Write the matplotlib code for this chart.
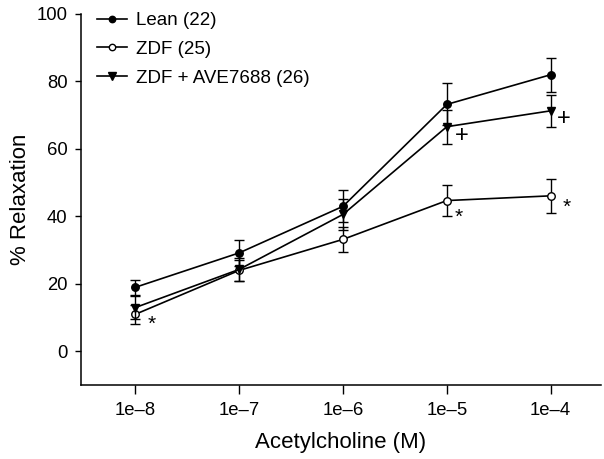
import matplotlib.pyplot as plt
import numpy as np

plt.rcParams['font.family'] = ['Liberation Sans', 'DejaVu Sans']

# stężenia acetylocholiny (etykiety osi x)
conc_labels = ['1e\u20138', '1e\u20137', '1e\u20136', '1e\u20135', '1e\u20134']

# % relaksacji, średnia i błąd
lean_mean = [19.0, 29.2, 43.0, 73.2, 82.0]
lean_err = [2.2, 3.8, 4.8, 6.2, 5.0]

zdf_mean = [11.0, 24.0, 33.2, 44.7, 46.1]
zdf_err = [2.8, 3.2, 3.7, 4.6, 5.0]

ave_mean = [13.0, 24.3, 40.6, 66.6, 71.3]
ave_err = [3.5, 3.5, 4.5, 5.0, 4.7]

labels = ['Lean (22)', 'ZDF (25)', 'ZDF + AVE7688 (26)']

# oznaczenia istotności: (indeks, znak)
marks_zdf = [(0, '*'), (3, '*'), (4, '*')]
marks_ave = [(3, '+'), (4, '+')]

x = np.arange(len(conc_labels))

fig = plt.figure(figsize=(6.04, 4.59), dpi=100)
ax = fig.add_axes([0.134, 0.161, 0.861, 0.8085])

kw = dict(color='black', lw=1.2, capsize=3.3, elinewidth=1.0, capthick=1.0)
h_zdf = ax.errorbar(x, zdf_mean, yerr=zdf_err, marker='o', ms=5.4, mfc='white',
                    mec='black', mew=1.0, zorder=3, **kw)
h_ave = ax.errorbar(x, ave_mean, yerr=ave_err, marker='v', ms=6, mfc='black',
                    mec='black', zorder=4, **kw)
h_lean = ax.errorbar(x, lean_mean, yerr=lean_err, marker='o', ms=5.4, mfc='black',
                     mec='black', zorder=5, **kw)

# przesunięcia znaków względem punktów (pt)
star_off = {0: (12, -7), 3: (8.5, -12), 4: (11.5, -8)}
plus_off = {3: (11, -7), 4: (9.5, -6)}

for i, s in marks_zdf:
    ax.annotate(s, (x[i], zdf_mean[i]), xytext=star_off[i],
                textcoords='offset points', ha='center', va='center', fontsize=15)
for i, s in marks_ave:
    ax.annotate(s, (x[i], ave_mean[i]), xytext=plus_off[i],
                textcoords='offset points', ha='center', va='center', fontsize=17)

ax.set_xlim(-0.525, 4.485)
ax.set_ylim(-10, 100)
ax.set_xticks(x)
ax.set_xticklabels(conc_labels)
ax.set_yticks([0, 20, 40, 60, 80, 100])
ax.tick_params(axis='both', direction='out', length=4.5, width=1, labelsize=13.3, pad=5)
ax.tick_params(axis='x', length=6.5, pad=6)

for side in ['top', 'right']:
    ax.spines[side].set_visible(False)
for side in ['left', 'bottom']:
    ax.spines[side].set_linewidth(1.1)

ax.set_xlabel('Acetylcholine (M)', fontsize=16, labelpad=9)
ax.set_ylabel('% Relaxation', fontsize=16, labelpad=4)

ax.legend([h_lean[0], h_zdf[0], h_ave[0]], labels, loc='upper left', frameon=False,
          fontsize=13.5, handlelength=1.6, handletextpad=0.5, labelspacing=0.62,
          markerscale=0.85, borderaxespad=0.0, borderpad=0.0,
          bbox_to_anchor=(0.03, 1.005))

fig.savefig('out.png', dpi=100)
